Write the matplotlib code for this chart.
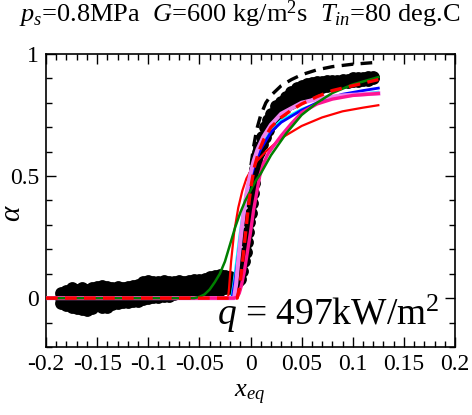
import matplotlib
matplotlib.use("Agg")
import matplotlib.pyplot as plt
from matplotlib.ticker import MultipleLocator

plt.rcParams["font.family"] = "Liberation Serif"
plt.rcParams["mathtext.fontset"] = "custom"
plt.rcParams["mathtext.rm"] = "Liberation Serif"
plt.rcParams["mathtext.it"] = "Liberation Serif:italic"

# measured void fraction: subcooled part (three bands of scattered points)
x_sub = [-0.185, -0.18, -0.175, -0.17, -0.165, -0.16, -0.155, -0.15, -0.145, -0.14,
         -0.135, -0.13, -0.125, -0.12, -0.115, -0.11, -0.105, -0.1, -0.095, -0.09,
         -0.085, -0.08, -0.075, -0.07, -0.065, -0.06, -0.055, -0.05, -0.045, -0.04,
         -0.035, -0.03, -0.025, -0.02, -0.015]
a_sub_hi = [0.02, 0.03, 0.04, 0.035, 0.04, 0.035, 0.04, 0.045, 0.05, 0.045,
            0.04, 0.045, 0.04, 0.045, 0.05, 0.055, 0.065, 0.07, 0.065, 0.065,
            0.07, 0.065, 0.065, 0.07, 0.065, 0.07, 0.075, 0.075, 0.08, 0.085,
            0.09, 0.095, 0.09, 0.085, 0.08]
a_sub_mid = [0.0, 0.0, 0.0, -0.005, 0.0, -0.01, 0.0, 0.005, 0.01, 0.005,
             0.01, 0.015, 0.015, 0.015, 0.02, 0.025, 0.03, 0.035, 0.035, 0.035,
             0.04, 0.04, 0.04, 0.045, 0.045, 0.045, 0.05, 0.05, 0.055, 0.06,
             0.06, 0.065, 0.065, 0.065, 0.065]
a_sub_lo = [-0.02, -0.03, -0.035, -0.04, -0.045, -0.05, -0.04, -0.03, -0.035, -0.035,
            -0.025, -0.02, -0.015, -0.015, -0.01, -0.01, -0.005, 0.0, 0.005, 0.005,
            0.01, 0.01, 0.015, 0.02, 0.02, 0.025, 0.025, 0.025, 0.03, 0.03,
            0.035, 0.035, 0.04, 0.04, 0.045]

# steep rise around saturation
x_rise = [-0.012, -0.010, -0.008, -0.006, -0.004, -0.003, -0.002, -0.001, 0.0, 0.001,
          0.002, 0.003, 0.0035, 0.004, 0.005, 0.006, 0.007]
a_rise = [0.07, 0.08, 0.11, 0.15, 0.19, 0.23, 0.27, 0.31, 0.35, 0.39,
          0.43, 0.47, 0.50, 0.53, 0.56, 0.58, 0.60]

# saturated part
x_sat = [0.008, 0.011, 0.014, 0.017, 0.02, 0.025, 0.03, 0.035, 0.04, 0.045,
         0.05, 0.055, 0.06, 0.065, 0.07, 0.075, 0.08, 0.085, 0.09, 0.095,
         0.1, 0.105, 0.11, 0.115, 0.12]
a_sat_hi = [0.62, 0.66, 0.70, 0.73, 0.755, 0.785, 0.805, 0.825, 0.845, 0.86,
            0.87, 0.875, 0.88, 0.885, 0.885, 0.89, 0.89, 0.89, 0.895, 0.895,
            0.9, 0.9, 0.9, 0.905, 0.905]
a_sat_lo = [0.60, 0.63, 0.66, 0.69, 0.715, 0.745, 0.765, 0.785, 0.80, 0.815,
            0.83, 0.84, 0.85, 0.86, 0.865, 0.87, 0.875, 0.88, 0.885, 0.885,
            0.89, 0.89, 0.895, 0.895, 0.9]

# model predictions
x_bd = [-0.2, -0.015, -0.012, -0.009, -0.006, -0.003, 0.0, 0.003, 0.006, 0.01,
        0.015, 0.02, 0.03, 0.04, 0.05, 0.065, 0.08, 0.1, 0.125]
a_bd = [0, 0, 0.07, 0.18, 0.3, 0.42, 0.53, 0.62, 0.69, 0.75,
        0.80, 0.83, 0.87, 0.895, 0.915, 0.935, 0.948, 0.958, 0.966]

x_rs = [-0.2, -0.022, -0.021, -0.019, -0.016, -0.012, -0.008, -0.004, 0.0, 0.006,
        0.015, 0.03, 0.05, 0.07, 0.09, 0.11, 0.125]
a_rs = [0, 0, 0.04, 0.15, 0.27, 0.37, 0.44, 0.49, 0.52, 0.56,
        0.60, 0.655, 0.705, 0.74, 0.765, 0.78, 0.79]

x_cy = [-0.2, -0.019, -0.017, -0.014, -0.011, -0.008, -0.005, -0.001, 0.004, 0.01,
        0.02, 0.03, 0.05, 0.07, 0.09, 0.11, 0.125]
a_cy = [0, 0, 0.05, 0.15, 0.25, 0.34, 0.42, 0.5, 0.57, 0.63,
        0.69, 0.73, 0.775, 0.805, 0.825, 0.838, 0.845]

x_bl = [-0.2, -0.018, -0.016, -0.013, -0.01, -0.007, -0.004, 0.0, 0.005, 0.01,
        0.02, 0.03, 0.05, 0.07, 0.09, 0.11, 0.125]
a_bl = [0, 0, 0.05, 0.14, 0.24, 0.33, 0.41, 0.49, 0.56, 0.61,
        0.68, 0.72, 0.77, 0.81, 0.835, 0.85, 0.86]

x_vi = [-0.2, -0.016, -0.014, -0.012, -0.009, -0.006, -0.003, 0.0, 0.003, 0.007,
        0.0125, 0.02, 0.03, 0.05, 0.07, 0.09, 0.11, 0.125]
a_vi = [0, 0, 0.06, 0.15, 0.27, 0.37, 0.45, 0.51, 0.56, 0.61,
        0.66, 0.71, 0.755, 0.80, 0.82, 0.83, 0.835, 0.838]

x_dp = [-0.2, -0.016, -0.013, -0.011, -0.009, -0.006, -0.003, 0.0, 0.003, 0.006,
        0.009, 0.0125, 0.017, 0.022, 0.03, 0.04, 0.05, 0.065, 0.08, 0.1, 0.125]
a_dp = [0, 0, 0.005, 0.02, 0.05, 0.11, 0.19, 0.27, 0.36, 0.43,
        0.5, 0.55, 0.59, 0.62, 0.665, 0.715, 0.76, 0.795, 0.815, 0.83, 0.838]

x_gr = [-0.2, -0.055, -0.05, -0.045, -0.04, -0.035, -0.03, -0.025, -0.02, -0.015,
        -0.01, -0.005, 0.0, 0.005, 0.01, 0.02, 0.035, 0.05, 0.065, 0.08, 0.1, 0.125]
a_gr = [0, 0, 0.005, 0.015, 0.035, 0.065, 0.10, 0.15, 0.22, 0.29,
        0.35, 0.40, 0.44, 0.48, 0.51, 0.585, 0.675, 0.75, 0.80, 0.84, 0.875, 0.905]

x_rd = [-0.2, -0.013, -0.011, -0.009, -0.007, -0.005, -0.003, -0.001, 0.001, 0.004,
        0.008, 0.013, 0.02, 0.03, 0.04, 0.05, 0.065, 0.08, 0.1, 0.125]
a_rd = [0, 0, 0.04, 0.1, 0.18, 0.26, 0.34, 0.41, 0.47, 0.54,
        0.6, 0.65, 0.7, 0.74, 0.77, 0.795, 0.825, 0.85, 0.87, 0.895]

xticks = [-0.2, -0.15, -0.1, -0.05, 0, 0.05, 0.1, 0.15, 0.2]
xticklabels = ["-0.2", "-0.15", "-0.1", "-0.05", "0", "0.05", "0.1", "0.15", "0.2"]

fig = plt.figure(figsize=(4.72, 4.15), dpi=100)
ax = fig.add_axes([0.0975, 0.164, 0.8665, 0.706])

ms = 85
for a in (a_sub_hi, a_sub_mid, a_sub_lo):
    ax.scatter(x_sub, a, s=ms, c="black", lw=0, zorder=1)
ax.scatter(x_rise, a_rise, s=ms, c="black", lw=0, zorder=1)
ax.scatter(x_sat, a_sat_hi, s=ms, c="black", lw=0, zorder=1)
ax.scatter(x_sat, a_sat_lo, s=ms, c="black", lw=0, zorder=1)

ax.plot(x_bd, a_bd, color="black", lw=2.4, ls=(0, (3.5, 2.2)), zorder=2)
ax.plot(x_rs, a_rs, color="red", lw=1.6, zorder=3)
ax.plot(x_cy, a_cy, color="cyan", lw=1.5, zorder=4)
ax.plot(x_bl, a_bl, color="blue", lw=2.0, zorder=5)
ax.plot(x_vi, a_vi, color="violet", lw=3.0, zorder=6)
ax.plot(x_dp, a_dp, color="deeppink", lw=2.4, zorder=7)
ax.plot(x_gr, a_gr, color="green", lw=1.8, zorder=8)
ax.plot(x_rd, a_rd, color="red", lw=2.4, ls=(0, (3.5, 2.2)), zorder=9)

ax.set_xlim(-0.2, 0.2)
ax.set_ylim(-0.2, 1)
ax.set_xticks(xticks)
ax.set_xticklabels(xticklabels)
ax.xaxis.set_minor_locator(MultipleLocator(0.01))
ax.set_yticks([0, 0.5, 1])
ax.set_yticklabels(["0", "0.5", "1"])
ax.yaxis.set_minor_locator(MultipleLocator(0.1))
ax.tick_params(which="both", direction="in", top=True, right=True, labelsize=17, width=1)
ax.tick_params(which="major", length=7, pad=5)
ax.tick_params(which="minor", length=4)
for s in ax.spines.values():
    s.set_linewidth(1.2)

fig.text(250 / 472, 1 - 395 / 415, "$x_{eq}$", fontsize=19, ha="center", va="center")
fig.text(13 / 472, 1 - 213 / 415, "$\\alpha$", fontsize=21, rotation=90,
         ha="center", va="center")

ax.text(-0.033, -0.11, "$q$ = 497kW/m$^2$", fontsize=27, ha="left", va="baseline", zorder=10)

fig.text(0.508, 0.947, "$p_s$=0.8MPa  $G$=600 kg/m$^2$s  $T_{in}$=80 deg.C",
         fontsize=19, ha="center", va="baseline")

fig.savefig("out.png", dpi=100)
